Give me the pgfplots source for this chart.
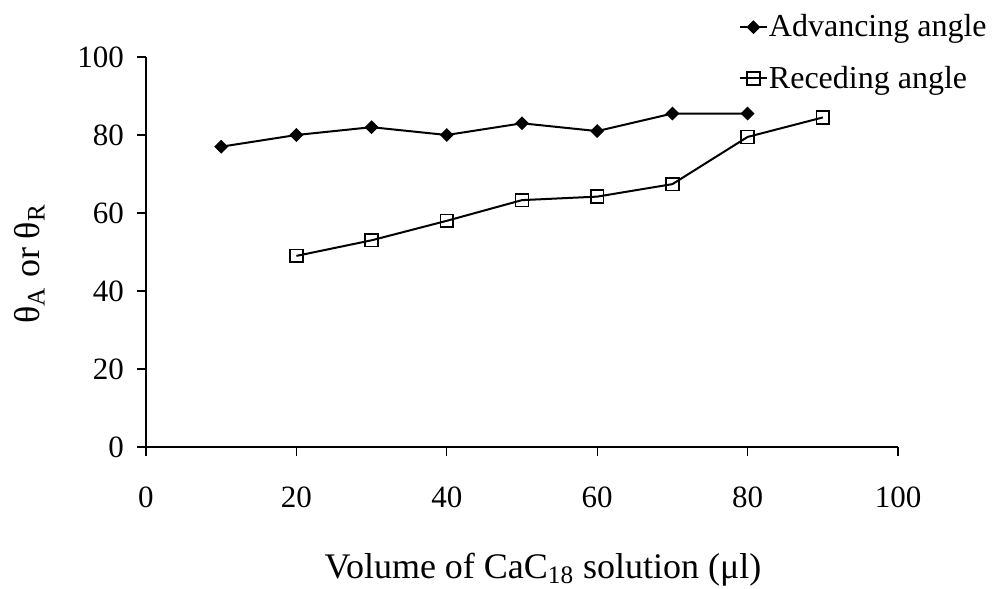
\documentclass[border=0pt]{standalone}
\usepackage{fontspec}
\setmainfont{Liberation Serif}
\usepackage{pgfplots}
\pgfplotsset{compat=1.18}

\begin{document}
\begin{tikzpicture}
\begin{axis}[
    scale only axis,
    width=376pt, height=195pt,
    xmin=0, xmax=100,
    ymin=0, ymax=100,
    xtick={0,20,...,100},
    ytick={0,20,...,100},
    axis x line=bottom, axis y line=left,
    axis line style={-, line width=0.6pt},
    tick align=outside,
    major tick length=4.5pt,
    tick style={line width=0.6pt, black},
    /pgf/number format/assume math mode=true,
    tick label style={font=\fontsize{15.5}{18}\selectfont},
    xticklabel shift=12pt,
    yticklabel shift=3pt,
    xlabel={Volume of CaC\textsubscript{18} solution (μl)},
    ylabel={θ\textsubscript{A} or θ\textsubscript{R}},
    every axis x label/.style={at={(axis description cs:0.528,-0.315)}, anchor=center,
        font=\fontsize{18}{21}\selectfont},
    every axis y label/.style={at={(axis description cs:-0.155,0.47)}, rotate=90, anchor=center,
        font=\fontsize{18}{21}\selectfont},
    legend cell align=left,
    legend style={
        at={(axis description cs:0.788,1.12)}, anchor=north west,
        draw=none, fill=none, inner sep=0pt,
        font=\fontsize{16}{19}\selectfont,
        row sep=9pt,
        nodes={inner xsep=0.5pt},
    },
    legend image code/.code={
        \draw[mark repeat=2, mark phase=2, #1]
            plot coordinates {(0pt,0pt) (6.75pt,0pt) (13.5pt,0pt)};
    },
]

% advancing angle
\addplot[black, line width=1pt, mark=square*, mark size=1.95pt,
    mark options={rotate=45, solid}] coordinates {
    (10,77) (20,80) (30,82) (40,80) (50,83) (60,81) (70,85.5) (80,85.5)
};

% receding angle
\addplot[black, line width=1pt, mark=square, mark size=3.2pt,
    mark options={fill=white, line width=0.8pt}] coordinates {
    (20,49) (30,53) (40,58) (50,63.3) (60,64.2) (70,67.4) (80,79.5) (90,84.5)
};

\legend{Advancing angle, Receding angle}
\end{axis}
\pgfresetboundingbox
\path[use as bounding box] (-73pt,-71pt) rectangle (425.5pt,223.5pt);
\end{tikzpicture}
\end{document}
